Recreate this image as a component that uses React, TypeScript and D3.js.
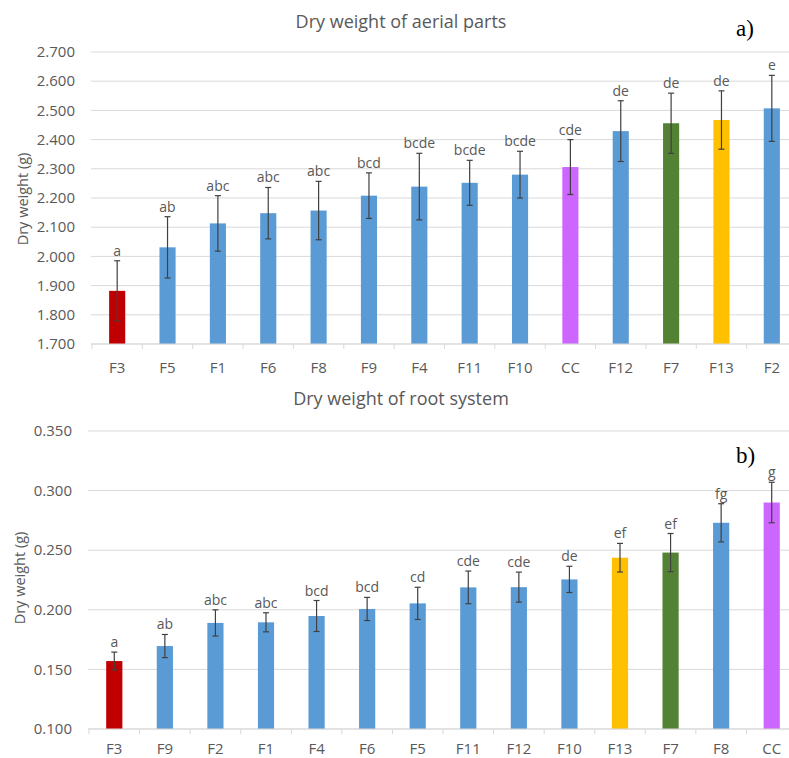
import React from "react";
import * as d3 from "d3";

const catsA = ["F3", "F5", "F1", "F6", "F8", "F9", "F4", "F11", "F10", "CC", "F12", "F7", "F13", "F2"];
const valsA = [1.882, 2.031, 2.113, 2.148, 2.157, 2.208, 2.239, 2.252, 2.28, 2.306, 2.429, 2.456, 2.467, 2.507];
const errA = [0.103, 0.105, 0.095, 0.088, 0.1, 0.078, 0.114, 0.077, 0.08, 0.094, 0.104, 0.103, 0.1, 0.113];
const lettersA = ["a", "ab", "abc", "abc", "abc", "bcd", "bcde", "bcde", "bcde", "cde", "de", "de", "de", "e"];
const ticksA = [1.7, 1.8, 1.9, 2.0, 2.1, 2.2, 2.3, 2.4, 2.5, 2.6, 2.7];

const catsB = ["F3", "F9", "F2", "F1", "F4", "F6", "F5", "F11", "F12", "F10", "F13", "F7", "F8", "CC"];
const valsB = [0.157, 0.1696, 0.189, 0.1895, 0.1948, 0.2007, 0.2054, 0.2188, 0.219, 0.2255, 0.2437, 0.248, 0.273, 0.29];
const errB = [0.0075, 0.0097, 0.011, 0.008, 0.013, 0.0097, 0.0135, 0.0137, 0.0126, 0.011, 0.012, 0.016, 0.016, 0.017];
const lettersB = ["a", "ab", "abc", "abc", "bcd", "bcd", "cd", "cde", "cde", "de", "ef", "ef", "fg", "g"];
const ticksB = [0.1, 0.15, 0.2, 0.25, 0.3, 0.35];

const colorMap: Record<string, string> = {
  F3: "#C00000",
  CC: "#CC66FF",
  F7: "#548235",
  F13: "#FFC000",
};
const BLUE = "#5B9BD5";
const TEXT = "#595959";
const GRID = "#D9D9D9";
const FONT = "'Open Sans', sans-serif";

type PanelProps = {
  cats: string[];
  vals: number[];
  errs: number[];
  letters: string[];
  ticks: number[];
  domain: [number, number];
  yRange: [number, number];
  xRange: [number, number];
  title: string;
  titleY: number;
  tag: string;
  tagY: number;
  yTitleX: number;
  yTitleY: number;
  tickRight: number;
  xLabelY: number;
};

function Panel(p: PanelProps) {
  const y = d3.scaleLinear().domain(p.domain).range(p.yRange);
  const x = d3.scaleBand<string>().domain(p.cats).range(p.xRange).padding(0);
  const step = x.step();
  const bw = step * 0.32;
  const base = p.yRange[0];
  const fmt = d3.format(".3f");
  return (
    <g>
      <text x={401} y={p.titleY} textAnchor="middle" fontFamily={FONT} fontSize={18} fill={TEXT}>
        {p.title}
      </text>
      <text x={736} y={p.tagY} fontFamily="'Liberation Serif', 'DejaVu Serif', serif" fontSize={23} fill="#000">
        {p.tag}
      </text>
      {p.ticks.map((t) => (
        <g key={t}>
          <line x1={p.xRange[0] - 1} x2={789} y1={y(t)} y2={y(t)} stroke={GRID} strokeWidth={1} />
          <text x={p.tickRight} y={y(t)} dy="0.35em" textAnchor="end" fontFamily={FONT} fontSize={15} fill={TEXT}>
            {fmt(t)}
          </text>
        </g>
      ))}
      {d3.range(p.cats.length + 1).map((i) => {
        const xx = p.xRange[0] + i * step;
        return <line key={i} x1={xx} x2={xx} y1={base} y2={base + 5} stroke={GRID} strokeWidth={1} />;
      })}
      <text
        transform={`translate(${p.yTitleX},${p.yTitleY}) rotate(-90)`}
        textAnchor="middle"
        dy="0.35em"
        fontFamily={FONT}
        fontSize={14.5}
        fill={TEXT}
      >
        Dry weight (g)
      </text>
      {p.cats.map((c, i) => {
        const cx = (x(c) as number) + step / 2;
        const top = y(p.vals[i]);
        const eTop = y(p.vals[i] + p.errs[i]);
        const eBot = y(p.vals[i] - p.errs[i]);
        return (
          <g key={c}>
            <rect x={cx - bw / 2} y={top} width={bw} height={base - top} fill={colorMap[c] || BLUE} />
            <line x1={cx} x2={cx} y1={eTop} y2={eBot} stroke="#404040" strokeWidth={1.2} />
            <line x1={cx - 3} x2={cx + 3} y1={eTop} y2={eTop} stroke="#404040" strokeWidth={1.2} />
            <line x1={cx - 3} x2={cx + 3} y1={eBot} y2={eBot} stroke="#404040" strokeWidth={1.2} />
            <text x={cx} y={eTop - 5} textAnchor="middle" fontFamily={FONT} fontSize={14} fill={TEXT}>
              {p.letters[i]}
            </text>
            <text x={cx} y={p.xLabelY} textAnchor="middle" fontFamily={FONT} fontSize={15} fill={TEXT}>
              {c}
            </text>
          </g>
        );
      })}
      <line x1={p.xRange[0] - 1} x2={789} y1={base} y2={base} stroke={GRID} strokeWidth={1} />
    </g>
  );
}

export default function App() {
  return (
    <svg
      width={789}
      height={758}
      style={{ position: "absolute", left: 0, top: 0, background: "#fff" }}
    >
      <rect x={0} y={0} width={789} height={758} fill="#fff" />
      <Panel
        cats={catsA}
        vals={valsA}
        errs={errA}
        letters={lettersA}
        ticks={ticksA}
        domain={[1.7, 2.7]}
        yRange={[344, 52]}
        xRange={[92, 797]}
        title="Dry weight of aerial parts"
        titleY={28}
        tag="a)"
        tagY={36}
        yTitleX={23}
        yTitleY={199}
        tickRight={75}
        xLabelY={373}
      />
      <Panel
        cats={catsB}
        vals={valsB}
        errs={errB}
        letters={lettersB}
        ticks={ticksB}
        domain={[0.1, 0.35]}
        yRange={[729, 431]}
        xRange={[89, 797]}
        title="Dry weight of root system"
        titleY={405}
        tag="b)"
        tagY={463}
        yTitleX={20}
        yTitleY={578}
        tickRight={72}
        xLabelY={754}
      />
    </svg>
  );
}
